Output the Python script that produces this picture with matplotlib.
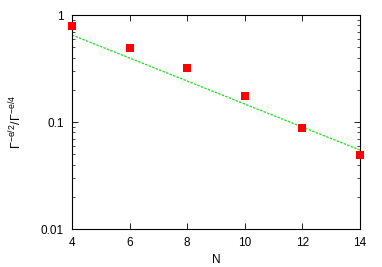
import matplotlib
matplotlib.use("Agg")
import matplotlib.pyplot as plt
import numpy as np
from matplotlib.ticker import LogLocator, NullFormatter, FixedLocator, FixedFormatter

plt.rcParams['font.family'] = ['Liberation Sans', 'DejaVu Sans']
plt.rcParams['mathtext.default'] = 'regular'

N = [4, 6, 8, 10, 12, 14]
ratio = [0.79, 0.495, 0.318, 0.175, 0.088, 0.049]
fit_N = [4, 14]
fit_vals = [0.65, 0.0547]

xticks = [4, 6, 8, 10, 12, 14]
yticks = [0.01, 0.1, 1]
ytick_labels = ["0.01", "0.1", "1"]

fig = plt.figure(figsize=(3.82, 2.67), dpi=100)
ax = fig.add_axes([0.1885, 0.1423, 0.9424 - 0.1885, 0.9438 - 0.1423])

ax.plot(fit_N, fit_vals, color="#22dd22", linestyle=(0, (2, 1)), linewidth=0.9)
ax.plot(N, ratio, linestyle="none", marker="s", markersize=5.5, color="#ff0000",
        markeredgewidth=0, clip_on=False, zorder=5)

ax.set_yscale("log")
ax.set_xlim(4, 14)
ax.set_ylim(0.01, 1)
ax.xaxis.set_major_locator(FixedLocator(xticks))
ax.yaxis.set_major_locator(FixedLocator(yticks))
ax.yaxis.set_major_formatter(FixedFormatter(ytick_labels))
ax.yaxis.set_minor_locator(LogLocator(base=10, subs=np.arange(2, 10)))
ax.yaxis.set_minor_formatter(NullFormatter())
ax.tick_params(which="both", direction="in", top=True, right=True, labelsize=8.5)
ax.tick_params(axis="x", which="major", pad=6)
ax.tick_params(axis="y", which="major", pad=6)
ax.tick_params(which="major", length=4, width=0.6)
ax.tick_params(which="minor", length=2, width=0.5)
for s in ax.spines.values():
    s.set_linewidth(0.8)

ax.set_xlabel("N", fontsize=8.5, labelpad=3)
ax.set_ylabel(r"$\Gamma^{-e/2}/\Gamma^{-e/4}$", fontsize=9, labelpad=12)

fig.savefig("out.png", dpi=100)
